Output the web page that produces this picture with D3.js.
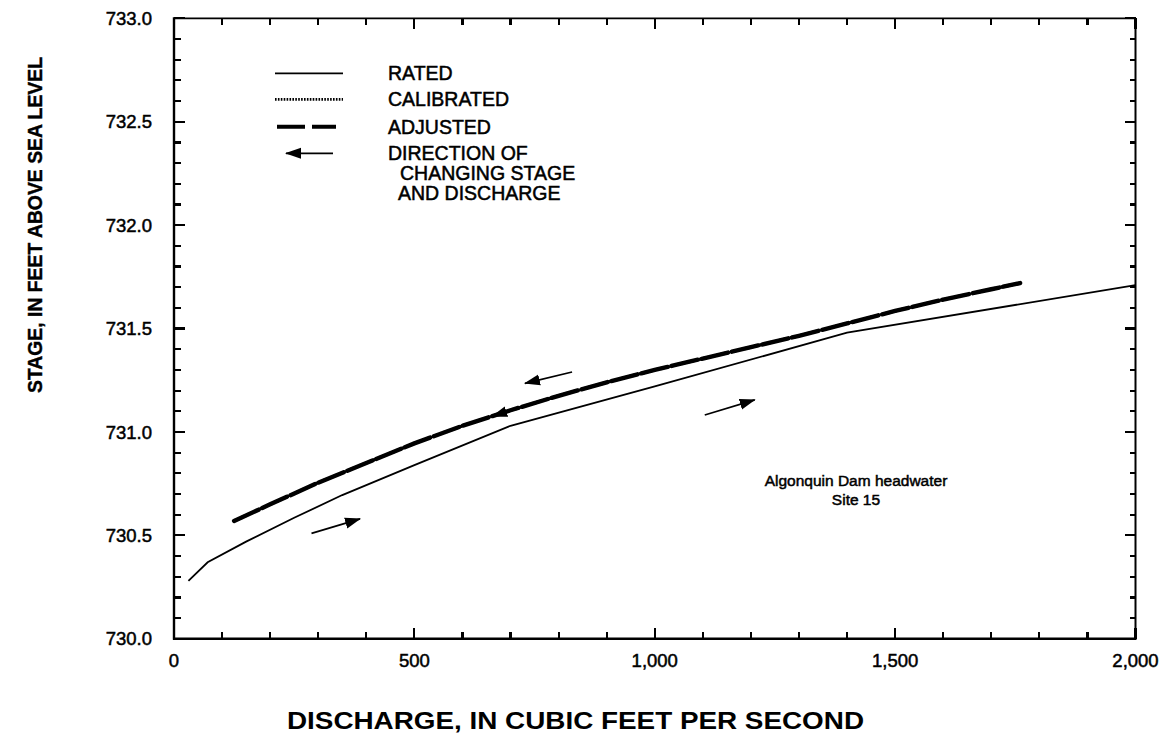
<!DOCTYPE html>
<html>
<head>
<meta charset="utf-8">
<script src="https://cdn.jsdelivr.net/npm/d3@7"></script>
<style>
  html, body { margin: 0; padding: 0; background: #fff; }
  svg { display: block; }
  text { font-family: "Liberation Sans", Arial, Helvetica, sans-serif; fill: #000; }
</style>
</head>
<body>
<svg id="chart" width="1163" height="743"></svg>
<script>
// Rating curve, discharge (ft3/s) vs stage (ft)
const ratedDischarge = [30, 70, 150, 250, 350, 500, 700, 1000, 1400, 2000];
const ratedStage     = [730.28, 730.37, 730.47, 730.585, 730.695, 730.84, 731.03, 731.22, 731.48, 731.71];

// Calibrated model curve
const calibratedDischarge = [125, 200, 300, 400, 500, 600, 700, 800, 900, 1000, 1100, 1200, 1300, 1400, 1500, 1600, 1700, 1760];
const calibratedStage     = [730.57, 730.65, 730.755, 730.85, 730.945, 731.03, 731.105, 731.175, 731.24, 731.30, 731.355, 731.41, 731.465, 731.525, 731.585, 731.64, 731.69, 731.72];

// Adjusted model curve
const adjustedDischarge = [125, 200, 300, 400, 500, 600, 700, 800, 900, 1000, 1100, 1200, 1300, 1400, 1500, 1600, 1700, 1760];
const adjustedStage     = [730.57, 730.65, 730.755, 730.85, 730.945, 731.03, 731.105, 731.175, 731.24, 731.30, 731.355, 731.41, 731.465, 731.525, 731.585, 731.64, 731.69, 731.72];

// Direction-of-change arrows: [tailDischarge, tailStage, headDischarge, headStage]
const directionArrows = [
  [828, 731.29, 730, 731.235],
  [1104, 731.082, 1208, 731.155],
  [286, 730.51, 387, 730.58]
];
// Arrowhead drawn on the model curve (falling limb)
const curveArrow = [700, 731.105, 662, 731.075];

const xTicks = [0, 500, 1000, 1500, 2000];
const xTickLabels = ["0", "500", "1,000", "1,500", "2,000"];
const yTicks = [730.0, 730.5, 731.0, 731.5, 732.0, 732.5, 733.0];
const yTickLabels = ["730.0", "730.5", "731.0", "731.5", "732.0", "732.5", "733.0"];
const xMinor = d3.range(0, 2001, 100);
const yMinor = d3.range(0, 31).map(i => +(730 + i * 0.1).toFixed(1));

const legendLabels = ["RATED", "CALIBRATED", "ADJUSTED"];
const legendArrowLabel = ["DIRECTION OF", "CHANGING STAGE", "AND DISCHARGE"];
const siteLabel = ["Algonquin Dam headwater", "Site 15"];

const svg = d3.select("#chart");
const plotLeft = 174, plotRight = 1135.5, plotTop = 18.3, plotBottom = 638.8;
const x = d3.scaleLinear().domain([0, 2000]).range([plotLeft, plotRight]);
const y = d3.scaleLinear().domain([730, 733]).range([plotBottom, plotTop]);

// arrowhead marker
const defs = svg.append("defs");
defs.append("marker")
  .attr("id", "head")
  .attr("markerUnits", "userSpaceOnUse")
  .attr("viewBox", "0 -6 16 12")
  .attr("refX", 15).attr("refY", 0)
  .attr("markerWidth", 16).attr("markerHeight", 12)
  .attr("orient", "auto")
  .append("path").attr("d", "M0,-5.5L16,0L0,5.5Z").attr("fill", "#000");

// frame
const frame = svg.append("g").attr("stroke", "#000").attr("fill", "none");
frame.append("line").attr("x1", plotLeft - 1).attr("x2", plotRight + 1).attr("y1", plotBottom).attr("y2", plotBottom).attr("stroke-width", 2.4);
frame.append("line").attr("x1", plotLeft).attr("x2", plotLeft).attr("y1", plotTop - 1).attr("y2", plotBottom + 1).attr("stroke-width", 2.4);
frame.append("line").attr("x1", plotLeft).attr("x2", plotRight).attr("y1", plotTop).attr("y2", plotTop).attr("stroke-width", 1.8);
frame.append("line").attr("x1", plotRight).attr("x2", plotRight).attr("y1", plotTop).attr("y2", plotBottom).attr("stroke-width", 2);

// inward ticks on all four sides, drawn as small filled bars
const isMajorX = d => xTicks.includes(d);
const isMajorY = d => yTicks.some(v => Math.abs(v - d) < 1e-6);
const tickW = 2.2;
const tg = svg.append("g").attr("fill", "#000").attr("shape-rendering", "crispEdges");
tg.selectAll(".tb").data(xMinor).join("rect").attr("class", "tb")
  .attr("x", d => x(d) - tickW / 2).attr("width", tickW)
  .attr("y", d => plotBottom - (isMajorX(d) ? 11 : 6.5)).attr("height", d => isMajorX(d) ? 11 : 6.5);
tg.selectAll(".tt").data(xMinor).join("rect").attr("class", "tt")
  .attr("x", d => x(d) - tickW / 2).attr("width", tickW)
  .attr("y", plotTop).attr("height", d => isMajorX(d) ? 11 : 6.5);
tg.selectAll(".tl").data(yMinor).join("rect").attr("class", "tl")
  .attr("y", d => y(d) - tickW / 2).attr("height", tickW)
  .attr("x", plotLeft).attr("width", d => isMajorY(d) ? 11 : 6.5);
tg.selectAll(".tr").data(yMinor).join("rect").attr("class", "tr")
  .attr("y", d => y(d) - tickW / 2).attr("height", tickW)
  .attr("x", d => plotRight - (isMajorY(d) ? 11 : 5.5)).attr("width", d => isMajorY(d) ? 11 : 5.5);

// tick labels
svg.append("g").selectAll("text").data(xTicks).join("text")
  .attr("x", d => x(d)).attr("y", 660).attr("dy", "0.36em").attr("text-anchor", "middle")
  .attr("font-size", 18.5).attr("stroke", "#000").attr("stroke-width", 0.5)
  .text((d, i) => xTickLabels[i]);
svg.append("g").selectAll("text").data(yTicks).join("text")
  .attr("x", 152).attr("y", d => y(d)).attr("dy", "0.36em").attr("text-anchor", "end")
  .attr("font-size", 18.5).attr("stroke", "#000").attr("stroke-width", 0.5)
  .text((d, i) => yTickLabels[i]);

// curves
const line = d3.line().x(d => x(d[0])).y(d => y(d[1]));
const zip = (a, b) => a.map((v, i) => [v, b[i]]);

svg.append("path").datum(zip(ratedDischarge, ratedStage))
  .attr("d", line).attr("fill", "none").attr("stroke", "#000").attr("stroke-width", 1.8);

svg.append("path").datum(zip(calibratedDischarge, calibratedStage))
  .attr("d", line).attr("fill", "none").attr("stroke", "#000").attr("stroke-width", 3.2)
  .attr("stroke-dasharray", "2.2,1.4").attr("stroke-linecap", "butt");

svg.append("path").datum(zip(adjustedDischarge, adjustedStage))
  .attr("d", line).attr("fill", "none").attr("stroke", "#000").attr("stroke-width", 4.4)
  .attr("stroke-dasharray", "27,4").attr("stroke-linecap", "round");

// direction arrows
directionArrows.forEach(a => {
  svg.append("line")
    .attr("x1", x(a[0])).attr("y1", y(a[1])).attr("x2", x(a[2])).attr("y2", y(a[3]))
    .attr("stroke", "#000").attr("stroke-width", 1.7).attr("marker-end", "url(#head)");
});
svg.append("line")
  .attr("x1", x(curveArrow[0])).attr("y1", y(curveArrow[1]))
  .attr("x2", x(curveArrow[2])).attr("y2", y(curveArrow[3]))
  .attr("stroke", "#000").attr("stroke-width", 0.01).attr("marker-end", "url(#head)");

// legend
const lg = svg.append("g");
const lx0 = 275, lx1 = 343, tx = 388;
const rowY = [73.3, 99.3, 126.7];
lg.append("line").attr("x1", lx0).attr("x2", lx1).attr("y1", rowY[0]).attr("y2", rowY[0])
  .attr("stroke", "#000").attr("stroke-width", 1.8);
lg.append("line").attr("x1", lx0).attr("x2", lx1).attr("y1", rowY[1]).attr("y2", rowY[1])
  .attr("stroke", "#000").attr("stroke-width", 2.8).attr("stroke-dasharray", "1.6,1.3");
lg.append("line").attr("x1", 277).attr("x2", 336).attr("y1", rowY[2]).attr("y2", rowY[2])
  .attr("stroke", "#000").attr("stroke-width", 4).attr("stroke-dasharray", "28,7");
lg.append("line").attr("x1", 333).attr("x2", 286).attr("y1", 153.3).attr("y2", 153.3)
  .attr("stroke", "#000").attr("stroke-width", 1.7).attr("marker-end", "url(#head)");

legendLabels.forEach((t, i) => {
  lg.append("text").attr("x", tx).attr("y", rowY[i]).attr("dy", "0.36em")
    .attr("font-size", 19.5).attr("stroke", "#000").attr("stroke-width", 0.5).text(t);
});
const arrowTextX = [388, 400, 398];
legendArrowLabel.forEach((t, i) => {
  lg.append("text").attr("x", arrowTextX[i]).attr("y", 153.3 + i * 19.7).attr("dy", "0.36em")
    .attr("font-size", 19.5).attr("stroke", "#000").attr("stroke-width", 0.5).text(t);
});

// site label
siteLabel.forEach((t, i) => {
  svg.append("text").attr("x", 856).attr("y", 480 + i * 19).attr("dy", "0.36em")
    .attr("text-anchor", "middle").attr("font-size", 15.5)
    .attr("stroke", "#000").attr("stroke-width", 0.5).text(t);
});

// axis titles
svg.append("text").attr("x", 575.5).attr("y", 720).attr("dy", "0.36em")
  .attr("text-anchor", "middle").attr("font-size", 24).attr("font-weight", "bold")
  .attr("textLength", 577).attr("lengthAdjust", "spacingAndGlyphs")
  .text("DISCHARGE, IN CUBIC FEET PER SECOND");
svg.append("g").attr("transform", "translate(34,225) rotate(-90)")
  .append("text").attr("x", 0).attr("y", 0).attr("dy", "0.36em")
  .attr("text-anchor", "middle").attr("font-size", 21).attr("font-weight", "bold")
  .attr("stroke", "#000").attr("stroke-width", 0.4)
  .attr("textLength", 336).attr("lengthAdjust", "spacingAndGlyphs")
  .text("STAGE, IN FEET ABOVE SEA LEVEL");
</script>
</body>
</html>
